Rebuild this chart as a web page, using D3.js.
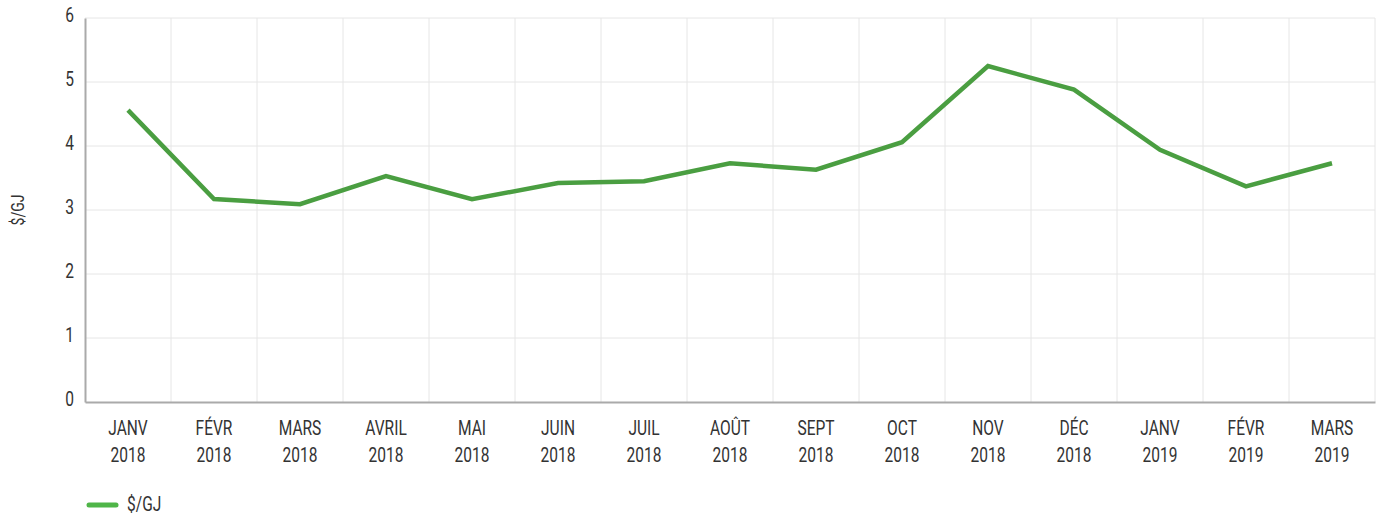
<!DOCTYPE html>
<html>
<head>
<meta charset="utf-8">
<script src="https://cdn.jsdelivr.net/npm/d3@7"></script>
<style>
  body { margin: 0; background: #fff; }
  text { font-family: Roboto, "Liberation Sans", sans-serif; fill: #333; }
</style>
</head>
<body>
<div id="plot"></div>
<script>
// month labels (two lines each)
var months = ["JANV", "FÉVR", "MARS", "AVRIL", "MAI", "JUIN", "JUIL", "AOÛT", "SEPT", "OCT", "NOV", "DÉC", "JANV", "FÉVR", "MARS"];
var years = ["2018", "2018", "2018", "2018", "2018", "2018", "2018", "2018", "2018", "2018", "2018", "2018", "2019", "2019", "2019"];
// price in $/GJ
var prices = [4.56, 3.17, 3.09, 3.53, 3.17, 3.42, 3.45, 3.73, 3.63, 4.06, 5.25, 4.88, 3.94, 3.37, 3.73];
var yTicks = [0, 1, 2, 3, 4, 5, 6];
var seriesName = "$/GJ";

var width = 1380, height = 516;
var margin = {left: 85, right: 5, top: 18, bottom: 114};
var squeeze = 0.74; // the original uses a condensed face

var svg = d3.select("#plot").append("svg")
    .attr("width", width)
    .attr("height", height);

var keys = months.map(function(m, i) { return i; });

var x = d3.scaleBand()
    .domain(keys)
    .range([margin.left, width - margin.right]);

var y = d3.scaleLinear()
    .domain([0, 6])
    .range([height - margin.bottom, margin.top]);

// narrow text helper
function narrowText(g, tx, ty, str, size, anchor) {
  return g.append("text")
    .attr("transform", "translate(" + tx + "," + ty + ") scale(" + squeeze + ",1)")
    .attr("text-anchor", anchor || "middle")
    .style("font-size", size + "px")
    .text(str);
}

// horizontal gridlines
svg.append("g")
  .selectAll("line")
  .data(yTicks.filter(function(d) { return d > 0; }))
  .enter().append("line")
    .attr("x1", margin.left)
    .attr("x2", width - margin.right)
    .attr("y1", function(d) { return y(d); })
    .attr("y2", function(d) { return y(d); })
    .style("stroke", "#e6e6e6")
    .style("stroke-width", 1);

// vertical gridlines at category boundaries
svg.append("g")
  .selectAll("line")
  .data(keys.slice(1).concat([keys.length]))
  .enter().append("line")
    .attr("x1", function(d) { return margin.left + d * x.step(); })
    .attr("x2", function(d) { return margin.left + d * x.step(); })
    .attr("y1", y(0))
    .attr("y2", y(6))
    .style("stroke", "#e6e6e6")
    .style("stroke-width", 1);

// y axis
var yAxis = svg.append("g")
    .attr("transform", "translate(" + margin.left + ",0)")
    .call(d3.axisLeft(y).tickValues(yTicks).tickSize(0).tickFormat(""));
yAxis.select(".domain").style("stroke", "#aaa").style("stroke-width", 2);
var yLab = svg.append("g");
yTicks.forEach(function(t) {
  narrowText(yLab, margin.left - 11, y(t) + 4, d3.format("d")(t), 21, "end");
});

// x axis
var xAxis = svg.append("g")
    .attr("transform", "translate(0," + y(0) + ")")
    .call(d3.axisBottom(x).tickSize(0).tickFormat(""));
xAxis.select(".domain").style("stroke", "#aaa").style("stroke-width", 2);

var xLab = svg.append("g");
keys.forEach(function(k) {
  var cx = x(k) + x.bandwidth() / 2;
  narrowText(xLab, cx, 435, months[k], 21);
  narrowText(xLab, cx, 462, years[k], 21);
});

// y axis title
svg.append("text")
    .attr("transform", "translate(24," + y(3) + ") rotate(-90) scale(" + squeeze + ",1)")
    .attr("text-anchor", "middle")
    .style("font-size", "19px")
    .text(seriesName);

// the line
var line = d3.line()
    .x(function(d, i) { return x(i) + x.bandwidth() / 2; })
    .y(function(d) { return y(d); });

svg.append("path")
    .datum(prices)
    .attr("d", line)
    .style("fill", "none")
    .style("stroke", "#4a9e41")
    .style("stroke-width", 4.5)
    .style("stroke-linejoin", "miter");

// legend
var legend = svg.append("g").attr("transform", "translate(89,505)");
legend.append("line")
    .attr("x1", 0).attr("x2", 27)
    .style("stroke", "#4fb548")
    .style("stroke-width", 5)
    .style("stroke-linecap", "round");
narrowText(legend, 38, 6, seriesName, 21, "start");
</script>
</body>
</html>
